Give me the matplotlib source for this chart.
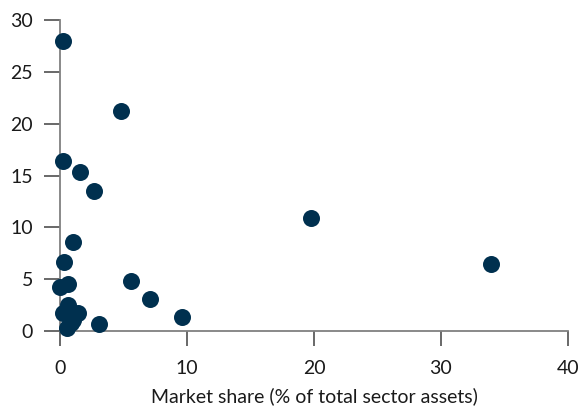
import matplotlib.pyplot as plt

# market share (% of total sector assets) vs. y value
market_share = [0.2, 4.8, 0.2, 1.6, 2.7, 19.8, 1.0, 0.3, 33.9, 5.6, 0.6, 0.0,
                7.1, 0.6, 9.6, 3.1, 0.25, 1.4, 1.0, 0.55, 0.9]
values = [28.0, 21.2, 16.4, 15.3, 13.5, 10.9, 8.6, 6.65, 6.45, 4.8, 4.5, 4.2,
          3.1, 2.5, 1.35, 0.7, 1.7, 1.7, 1.05, 0.3, 0.8]

plt.rcParams['font.family'] = ['Lato', 'DejaVu Sans']

fig = plt.figure(figsize=(5.79, 4.09), dpi=100)
ax = fig.add_axes([0.1036, 0.1907, 0.8774, 0.7603])

ax.scatter(market_share, values, s=150, color="#00304f", zorder=3,
           clip_on=False, linewidths=0)

ax.set_xlim(0, 40)
ax.set_ylim(0, 30)
ax.set_xticks([0, 10, 20, 30, 40])
ax.set_yticks([0, 5, 10, 15, 20, 25, 30])

for side in ["top", "right"]:
    ax.spines[side].set_visible(False)
for side in ["left", "bottom"]:
    ax.spines[side].set_color("#808080")
    ax.spines[side].set_linewidth(1.3)

ax.tick_params(axis="both", color="#404040", width=1.1, labelsize=14,
               labelcolor="#1a1a1a")
ax.tick_params(axis="x", length=11, pad=10)
ax.tick_params(axis="y", length=11.5, pad=8)

ax.set_xlabel("Market share (% of total sector assets)", fontsize=14,
              color="#1a1a1a", labelpad=7)

fig.savefig("out.png", dpi=100)
